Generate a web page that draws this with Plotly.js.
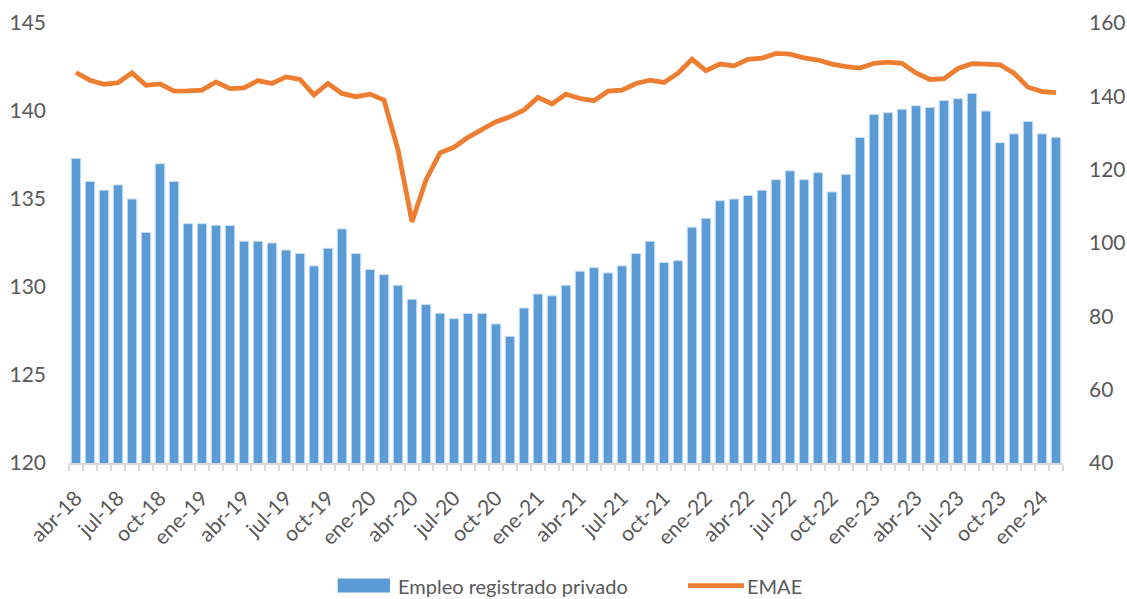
<!DOCTYPE html>
<html>
<head>
<meta charset="utf-8">
<script src="https://cdn.plot.ly/plotly-3.0.1.min.js"></script>
<style>html,body{margin:0;padding:0;background:#fff;}#chart{width:1127px;height:599px;}</style>
</head>
<body>
<div id="chart"></div>
<script>
// Categories: abr-18 to feb-24 (71 months)
const months = [
 "abr-18","may-18","jun-18","jul-18","ago-18","sep-18","oct-18","nov-18","dic-18",
 "ene-19","feb-19","mar-19","abr-19","may-19","jun-19","jul-19","ago-19","sep-19","oct-19","nov-19","dic-19",
 "ene-20","feb-20","mar-20","abr-20","may-20","jun-20","jul-20","ago-20","sep-20","oct-20","nov-20","dic-20",
 "ene-21","feb-21","mar-21","abr-21","may-21","jun-21","jul-21","ago-21","sep-21","oct-21","nov-21","dic-21",
 "ene-22","feb-22","mar-22","abr-22","may-22","jun-22","jul-22","ago-22","sep-22","oct-22","nov-22","dic-22",
 "ene-23","feb-23","mar-23","abr-23","may-23","jun-23","jul-23","ago-23","sep-23","oct-23","nov-23","dic-23",
 "ene-24","feb-24"
];
// Empleo registrado privado (left axis)
const empleo = [
 137.3,136.0,135.5,135.8,135.0,133.1,137.0,136.0,133.6,
 133.6,133.5,133.5,132.6,132.6,132.5,132.1,131.9,131.2,132.2,133.3,131.9,
 131.0,130.7,130.1,129.3,129.0,128.5,128.2,128.5,128.5,127.9,127.2,128.8,
 129.6,129.5,130.1,130.9,131.1,130.8,131.2,131.9,132.6,131.4,131.5,133.4,
 133.9,134.9,135.0,135.2,135.5,136.1,136.6,136.1,136.5,135.4,136.4,138.5,
 139.8,139.9,140.1,140.3,140.2,140.6,140.7,141.0,140.0,138.2,138.7,139.4,
 138.7,138.5
];
// EMAE (right axis)
const emae = [
 146.5,144.4,143.3,143.7,146.4,143.0,143.4,141.4,141.5,
 141.7,143.9,142.1,142.3,144.3,143.5,145.3,144.6,140.4,143.5,140.8,139.9,
 140.6,139.0,125.4,105.8,117.2,124.6,126.1,128.8,130.8,133.1,134.4,136.3,
 139.7,137.9,140.6,139.4,138.8,141.4,141.7,143.5,144.4,143.8,146.3,150.1,
 147.0,148.8,148.3,150.1,150.4,151.7,151.5,150.5,149.9,148.8,148.1,147.7,
 149.0,149.3,149.0,146.4,144.6,144.8,147.6,148.9,148.8,148.6,146.3,142.5,
 141.3,141.0
];
const seriesNames = ["Empleo registrado privado", "EMAE"];
const tickLabels = months.map((m, i) => (i % 3 === 0 ? m : ""));

const fontFam = "Lato, 'Open Sans', 'Liberation Sans', sans-serif";
const grey = "#595959";
const blue = "#5b9bd5";
const orange = "#ed7d31";

const traces = [
 {
  type: "bar", name: seriesNames[0],
  x: months, y: empleo, yaxis: "y",
  marker: {color: blue, line: {color: "#c9ddf0", width: 1}},
  showlegend: false
 },
 {
  type: "scatter", mode: "lines", name: seriesNames[1],
  x: months, y: emae, yaxis: "y2",
  line: {color: orange, width: 4.8, shape: "linear"},
  showlegend: false
 }
];

const layout = {
  width: 1127, height: 599,
  margin: {l: 69, r: 64, t: 23, b: 136, autoexpand: false},
  paper_bgcolor: "#ffffff", plot_bgcolor: "#ffffff",
  font: {family: fontFam, size: 20, color: grey},
  bargap: 0.33,
  showlegend: false,
  xaxis: {
    type: "category",
    tickmode: "array", tickvals: months, ticktext: tickLabels,
    tickangle: -45,
    tickson: "boundaries",
    ticks: "outside", ticklen: 6, tickcolor: "#d9d9d9", tickwidth: 1.5,
    ticklabelstandoff: 13,
    showline: true, linecolor: "#d9d9d9", linewidth: 1.5,
    showgrid: false, zeroline: false, automargin: false,
    tickfont: {size: 21, color: grey},
    range: [-0.5, months.length - 0.5]
  },
  yaxis: {
    range: [120, 145], dtick: 5, tick0: 120,
    showgrid: false, zeroline: false, showline: false, automargin: false,
    ticks: "", ticklabelstandoff: 22,
    tickfont: {size: 21, color: grey}
  },
  yaxis2: {
    overlaying: "y", side: "right",
    range: [40, 160], dtick: 20, tick0: 40,
    showgrid: false, zeroline: false, showline: false, automargin: false,
    ticks: "", ticklabelstandoff: 25,
    tickfont: {size: 21, color: grey}
  },
  shapes: [
    {type: "rect", xref: "paper", yref: "paper", x0: 0.2703, x1: 0.3229, y0: -0.2945, y1: -0.2627,
     fillcolor: blue, line: {width: 0}},
    {type: "line", xref: "paper", yref: "paper", x0: 0.6227, x1: 0.679, y0: -0.2786, y1: -0.2786,
     line: {color: orange, width: 4.8}}
  ],
  annotations: [
    {xref: "paper", yref: "paper", x: 0.3285, y: -0.2795, xanchor: "left", yanchor: "middle",
     text: seriesNames[0], showarrow: false, font: {size: 20, color: grey}},
    {xref: "paper", yref: "paper", x: 0.6805, y: -0.2795, xanchor: "left", yanchor: "middle",
     text: seriesNames[1], showarrow: false, font: {size: 20, color: grey}}
  ]
};

Plotly.newPlot("chart", traces, layout, {displayModeBar: false, staticPlot: true});
</script>
</body>
</html>
